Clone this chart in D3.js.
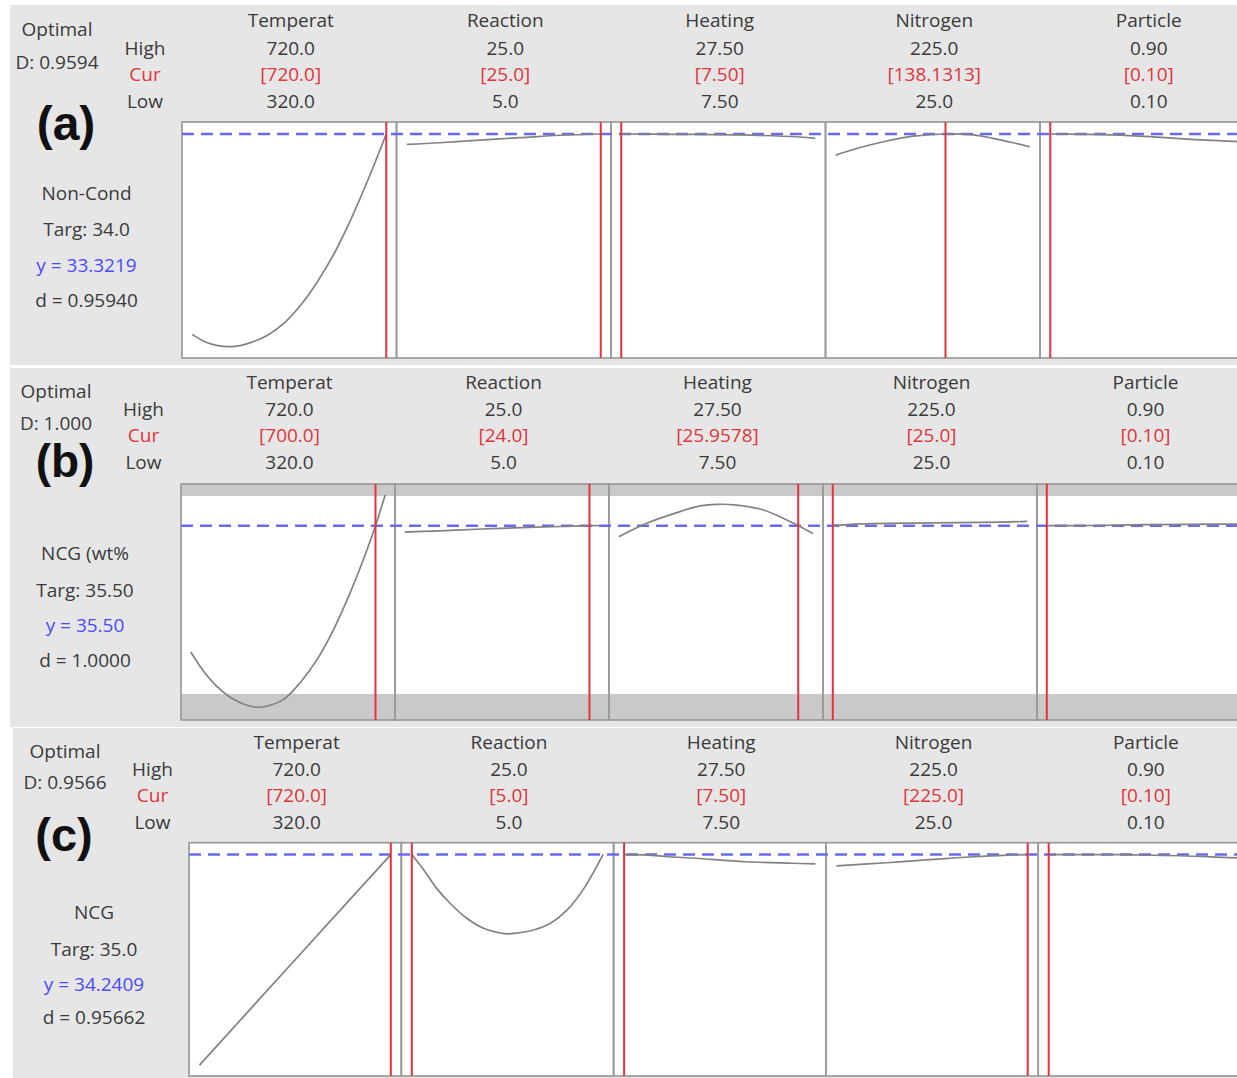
<!DOCTYPE html>
<html><head><meta charset="utf-8">
<script src="https://cdn.jsdelivr.net/npm/d3@7"></script>
<style>html,body{margin:0;padding:0;background:#fff;} svg{display:block;}</style>
</head><body>
<script>
// ---------- data ----------
const factorNames = ["Temperat","Reaction","Heating","Nitrogen","Particle"];
const factorHighLabels = ["720.0","25.0","27.50","225.0","0.90"];
const factorLowLabels = ["320.0","5.0","7.50","25.0","0.10"];
const factorLow = [320, 5, 7.5, 25, 0.1];
const factorHigh = [720, 25, 27.5, 225, 0.9];

const panelTags = ["(a)","(b)","(c)"];
const optimalD = ["D: 0.9594","D: 1.000","D: 0.9566"];
const responseNames = ["Non-Cond","NCG (wt%","NCG"];
const targetLabels = ["Targ: 34.0","Targ: 35.50","Targ: 35.0"];
const predictedLabels = ["y = 33.3219","y = 35.50","y = 34.2409"];
const desirabilityLabels = ["d = 0.95940","d = 1.0000","d = 0.95662"];
const predictedY = [33.3219, 35.50, 34.2409];
const responseDomains = [[19.30, 34.07],[25.687, 37.606],[21.0, 34.95]];
const responseBoundsB = [27, 37];

const currentA = [720, 25, 7.5, 138.1313, 0.10];
const currentB = [700, 24, 25.9578, 25, 0.10];
const currentC = [720, 5, 7.5, 225, 0.10];
const currentLabelsA = ["[720.0]","[25.0]","[7.50]","[138.1313]","[0.10]"];
const currentLabelsB = ["[700.0]","[24.0]","[25.9578]","[25.0]","[0.10]"];
const currentLabelsC = ["[720.0]","[5.0]","[7.50]","[225.0]","[0.10]"];

const curveXA = [
  [320,346,373,408,442,476,511,545,579,614,648,683,720],
  [5,8.4,12.5,16.7,20.8,25],
  [7.5,13,19.7,25.9,27.5],
  [25,43,60,77.5,94.6,105,138.13,167,187,208,225],
  [0.1,0.22,0.36,0.51,0.65,0.79,0.9]
];
const curveYA = [
  [20.78,20.32,20.07,20.03,20.28,20.74,21.53,22.66,24.12,25.92,28.04,30.50,33.32],
  [32.67,32.77,32.94,33.09,33.24,33.32],
  [33.32,33.30,33.26,33.13,33.05],
  [32.00,32.35,32.63,32.88,33.09,33.19,33.32,33.26,33.05,32.77,32.52],
  [33.32,33.30,33.26,33.15,33.01,32.90,32.82]
];
const curveXB = [
  [320,346,373,408,442,459,476,511,545,580,614,648,683,700,720],
  [5,7.9,12.4,16.9,21,24,25],
  [7.5,10.36,13.8,15.85,17.7,19.63,22.38,25.96,27.5],
  [25,53,125,200,225],
  [0.1,0.3,0.5,0.7,0.9]
];
const curveYB = [
  [29.12,28.16,27.40,26.73,26.38,26.33,26.38,26.73,27.57,28.75,30.27,32.12,34.31,35.50,37.05],
  [35.18,35.23,35.32,35.40,35.46,35.50,35.51],
  [34.94,35.62,36.21,36.50,36.58,36.54,36.29,35.50,35.10],
  [35.50,35.59,35.64,35.68,35.72],
  [35.50,35.51,35.55,35.57,35.58]
];
const curveXC = [
  [320,520,720],
  [5,6.25,7.6,9,10.75,12.5,14.25,15.1,16,17.75,19.5,21.25,23,25],
  [7.5,9.8,12.2,15,20.2,25.1,27.5],
  [25,77.7,102,126.5,151,175.4,203.3,225],
  [0.1,0.315,0.453,0.65,0.83,0.9]
];
const curveYC = [
  [21.65,27.95,34.24],
  [34.24,33.32,32.22,31.33,30.43,29.83,29.55,29.50,29.55,29.73,30.13,30.93,32.22,34.25],
  [34.24,34.22,34.11,34.02,33.81,33.72,33.68],
  [33.57,33.75,33.85,33.95,34.05,34.13,34.21,34.24],
  [34.24,34.24,34.22,34.17,34.07,34.03]
];

// ---------- layout ----------
const W = 1237, H = 1078;
const layouts = [
  {bg:[10,5,1227,360], left:182, top:122, bottom:358, subW:214.5, pad:10.25,
   optX:57, optY:35.5, dY:68.5, tagX:66, tagY:140, tagSize:48, hlcX:145, headY:26.5, highY:54.5, curY:81, lowY:107.5,
   respX:86.5, respY:[200,235.5,271.5,306.5]},
  {bg:[10,368,1227,359], left:181, top:484, bottom:720, subW:214, pad:9.8,
   optX:56, optY:398.3, dY:429.5, tagX:65, tagY:477, tagSize:46, hlcX:143.5, headY:389, highY:415.7, curY:442, lowY:468.7,
   respX:85, respY:[560,596.7,632,667]},
  {bg:[13,728,1224,350], left:189, top:842.7, bottom:1076, subW:212.3, pad:10.5,
   optX:65, optY:757.5, dY:789, tagX:64, tagY:851, tagSize:47, hlcX:152.5, headY:749, highY:775.7, curY:802, lowY:828.5,
   respX:94, respY:[919,955.5,990.5,1024]}
];
const panelData = [
  {cur:currentA, curLab:currentLabelsA, cx:curveXA, cy:curveYA, bounds:null},
  {cur:currentB, curLab:currentLabelsB, cx:curveXB, cy:curveYB, bounds:responseBoundsB},
  {cur:currentC, curLab:currentLabelsC, cx:curveXC, cy:curveYC, bounds:null}
];

const FONT = "'Open Sans', 'Noto Sans', sans-serif";
const TXT = "#3a3a3a", RED = "#e0353b", BLUE = "#4a4aff";

const svg = d3.select("body").append("svg").attr("width", W).attr("height", H)
  .style("background", "#fff");

layouts.forEach((L, p) => {
  const D = panelData[p];
  const g = svg.append("g");
  g.append("rect").attr("x", L.bg[0]).attr("y", L.bg[1]).attr("width", L.bg[2]).attr("height", L.bg[3])
    .attr("fill", "#e6e6e6");

  const y = d3.scaleLinear().domain(responseDomains[p]).range([L.bottom, L.top]);
  const text = (x, yy, s, fill) => g.append("text").attr("x", x).attr("y", yy).attr("text-anchor", "middle")
      .attr("font-family", FONT).attr("font-size", 19).attr("fill", fill || TXT).text(s);

  // left info
  text(L.optX, L.optY, "Optimal");
  text(L.optX, L.dY, optimalD[p]);
  g.append("text").attr("x", L.tagX).attr("y", L.tagY).attr("text-anchor", "middle")
    .attr("font-family", "'Liberation Sans', Arial, sans-serif").attr("font-weight", "bold")
    .attr("font-size", L.tagSize).attr("fill", "#111").text(panelTags[p]);
  text(L.hlcX, L.highY, "High");
  text(L.hlcX, L.curY, "Cur", RED);
  text(L.hlcX, L.lowY, "Low");
  text(L.respX, L.respY[0], responseNames[p]);
  text(L.respX, L.respY[1], targetLabels[p]);
  text(L.respX, L.respY[2], predictedLabels[p], BLUE);
  text(L.respX, L.respY[3], desirabilityLabels[p]);

  const plotH = L.bottom - L.top;
  const dataW = L.subW - 2 * L.pad;

  // plot backgrounds
  factorNames.forEach((f, i) => {
    const x0 = L.left + i * L.subW;
    g.append("rect").attr("x", x0).attr("y", L.top).attr("width", L.subW).attr("height", plotH)
      .attr("fill", "#fff");
    if (D.bounds) {
      g.append("rect").attr("x", x0).attr("y", L.top).attr("width", L.subW)
        .attr("height", y(D.bounds[1]) - L.top).attr("fill", "#c9c9c9");
      g.append("rect").attr("x", x0).attr("y", y(D.bounds[0])).attr("width", L.subW)
        .attr("height", L.bottom - y(D.bounds[0])).attr("fill", "#c9c9c9");
    }
  });
  factorNames.forEach((f, i) => {
    const x0 = L.left + i * L.subW;
    g.append("rect").attr("x", x0).attr("y", L.top).attr("width", L.subW).attr("height", plotH)
      .attr("fill", "none").attr("stroke", "#9a9a9a").attr("stroke-width", 1.7);
  });

  // dashed predicted line
  g.append("line").attr("x1", L.left).attr("x2", W).attr("y1", y(predictedY[p])).attr("y2", y(predictedY[p]))
    .attr("stroke", "#6a6af2").attr("stroke-width", 2.4).attr("stroke-dasharray", "12,7");

  factorNames.forEach((f, i) => {
    const x0 = L.left + i * L.subW;
    const x = d3.scaleLinear().domain([factorLow[i], factorHigh[i]]).range([x0 + L.pad, x0 + L.pad + dataW]);
    const cx = x0 + L.pad + dataW / 2 + 1.5;
    text(cx, L.headY, f);
    text(cx, L.highY, factorHighLabels[i]);
    text(cx, L.curY, D.curLab[i], RED);
    text(cx, L.lowY, factorLowLabels[i]);

    const pts = D.cx[i].map((v, k) => [v, D.cy[i][k]]);
    g.append("path").datum(pts)
      .attr("d", d3.line().x(d => x(d[0])).y(d => y(d[1])).curve(d3.curveCatmullRom.alpha(0.5)))
      .attr("fill", "none").attr("stroke", "#828282").attr("stroke-width", 1.7);

    g.append("line").attr("x1", x(D.cur[i])).attr("x2", x(D.cur[i]))
      .attr("y1", L.top).attr("y2", L.bottom)
      .attr("stroke", "#e8323a").attr("stroke-width", 2);
  });
});
</script>
</body></html>
